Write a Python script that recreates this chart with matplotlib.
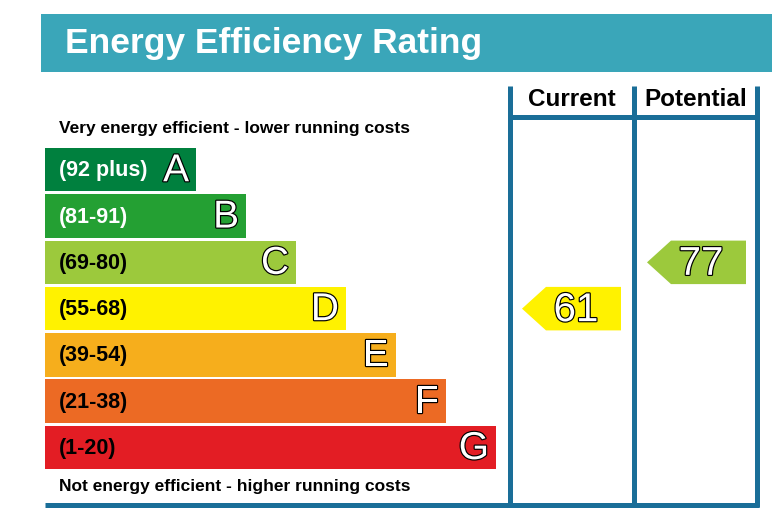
import matplotlib
matplotlib.use("Agg")
import matplotlib.pyplot as plt
import matplotlib.patheffects as pe
from matplotlib.patches import Rectangle, Polygon

plt.rcParams['font.family'] = ['Liberation Sans', 'DejaVu Sans']

# data
bands = ['A', 'B', 'C', 'D', 'E', 'F', 'G']
ranges = ['(92 plus)', '(81-91)', '(69-80)', '(55-68)', '(39-54)', '(21-38)', '(1-20)']
lows = [92, 81, 69, 55, 39, 21, 1]
colors = ['#00803e', '#24a033', '#9cc93c', '#fff200', '#f6ae1c', '#ec6a24', '#e31d24']
label_colors = ['white', 'white', 'black', 'black', 'black', 'black', 'black']
current = 61
potential = 77

teal = '#3aa6b9'
blue = '#1a6e98'

fig = plt.figure(figsize=(7.72, 5.11), dpi=100)
ax = fig.add_axes([0, 0, 1, 1])
ax.set_xlim(0, 772)
ax.set_ylim(511, 0)
ax.axis('off')

# title banner
ax.add_patch(Rectangle((41, 14), 731, 58, color=teal, lw=0))
ax.text(65, 43, 'Energy Efficiency Rating', color='white', fontsize=25.5,
        fontweight='bold', va='center', ha='left')

# bands
top = 148
pitch = 46.3
h = 43.5
outline = [pe.withStroke(linewidth=1.7, foreground='black')]


def band_of(score):
    for i, lo in enumerate(lows):
        if score >= lo:
            return i
    return len(lows) - 1


for i, (b, r) in enumerate(zip(bands, ranges)):
    y = top + i * pitch
    right = 196 + 50 * i
    ax.add_patch(Rectangle((45, y), right - 45, h, color=colors[i], lw=0))
    ax.text(59, y + h / 2 + 1, r, color=label_colors[i], fontsize=15.5,
            fontweight='bold', va='center', ha='left')
    ax.text(right - 7, y + h / 2 + 1.5, b, color='white', fontsize=28,
            va='center', ha='right', path_effects=outline)

ax.text(59, 128, 'Very energy efficient - lower running costs', fontsize=12.5,
        fontweight='bold', va='center', ha='left')
ax.text(59, 486, 'Not energy efficient - higher running costs', fontsize=12.5,
        fontweight='bold', va='center', ha='left')

# columns frame
lw = 3.6
for x in [510, 634, 757]:
    ax.plot([x, x], [86, 507], color=blue, lw=lw, solid_capstyle='butt')
ax.plot([510, 757], [117, 117], color=blue, lw=lw, solid_capstyle='butt')
ax.plot([45, 759], [505, 505], color=blue, lw=lw, solid_capstyle='butt')

ax.text(572, 99, 'Current', fontsize=17.5, fontweight='bold', va='center', ha='center')
ax.text(696, 99, 'Potential', fontsize=17.5, fontweight='bold', va='center', ha='center')


def arrow(x_tip, score):
    i = band_of(score)
    y = top + i * pitch
    pts = [(x_tip, y + h / 2), (x_tip + 24, y), (x_tip + 99, y),
           (x_tip + 99, y + h), (x_tip + 24, y + h)]
    ax.add_patch(Polygon(pts, closed=True, color=colors[i], lw=0))
    ax.text(x_tip + 54, y + h / 2 + 1.5, str(score), color='white', fontsize=29,
            va='center', ha='center', path_effects=outline)


arrow(522, current)
arrow(647, potential)

fig.savefig('out.png', dpi=100)
